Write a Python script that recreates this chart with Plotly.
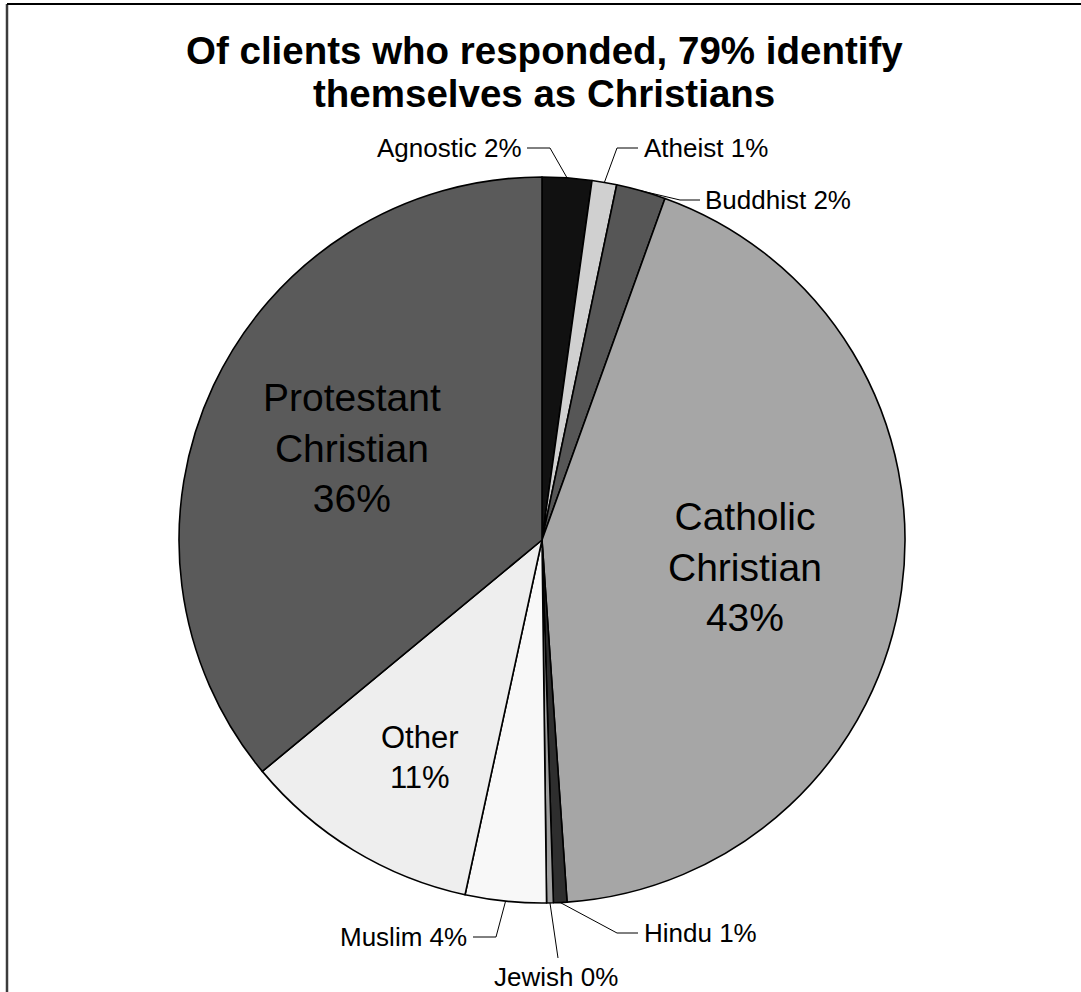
import math
import plotly.graph_objects as go

# Survey responses by religious identification (share of respondents, %)
religions = ["Agnostic", "Atheist", "Buddhist", "Catholic Christian", "Hindu",
             "Jewish", "Muslim", "Other", "Protestant Christian"]
shares = [2.2, 1.1, 2.2, 43.4, 0.6, 0.3, 3.6, 10.6, 36.0]
slice_colors = ["#111111", "#d0d0d0", "#565656", "#a6a6a6", "#2e2e2e",
                "#a0a0a0", "#f8f8f8", "#eeeeee", "#5a5a5a"]

W, H = 1081, 992
L, T, SIZE = 179, 177, 726          # plot area holding the pie (pixels)
R_MARGIN = W - L - SIZE
B_MARGIN = H - T - SIZE
CX, CY, RAD = L + SIZE / 2, T + SIZE / 2, SIZE / 2
FONT = "Liberation Sans, Arial, sans-serif"


def to_paper(px, py):
    return (px - L) / SIZE, 1 - (py - T) / SIZE


def polar_px(frac, r):
    a = 2 * math.pi * frac
    return CX + r * math.sin(a), CY - r * math.cos(a)


total = sum(shares)
mids = []
acc = 0.0
for v in shares:
    mids.append((acc + v / 2) / total)
    acc += v
pct_text = [f"{round(v / total * 100):.0f}%" for v in shares]

fig = go.Figure(go.Pie(
    labels=religions, values=shares, sort=False, direction="clockwise",
    rotation=0, textinfo="none", hoverinfo="skip", showlegend=False,
    marker=dict(colors=slice_colors, line=dict(color="#000000", width=1.6)),
))

annotations = []
shapes = []

# Large slices: labels inside the pie (radius fraction, font size, pixel nudge)
inside = {"Catholic Christian": (0.565, 39, 0, -1),
          "Protestant Christian": (0.58, 39, 1, -2),
          "Other": (0.69, 31, 8, 4)}
for i, name in enumerate(religions):
    if name in inside:
        rf, fs, nx, ny = inside[name]
        px, py = polar_px(mids[i], RAD * rf)
        x, y = to_paper(px + nx, py + ny)
        annotations.append(dict(
            x=x, y=y, xref="paper", yref="paper", showarrow=False,
            text=name.replace(" ", "<br>") + "<br>" + pct_text[i],
            font=dict(family=FONT, size=fs, color="#000000"),
            xanchor="center", yanchor="middle"))

# Small slices: outside labels with elbow leader lines
# name: (elbow px, line end px, text anchor px, xanchor)
outside = {
    "Agnostic": ((550, 148), (527, 148), (524, 148), "right"),
    "Atheist": ((617, 148), (638, 148), (642, 148), "left"),
    "Buddhist": ((680, 200), (700, 200), (703, 200), "left"),
    "Hindu": ((617, 933), (638, 933), (642, 933), "left"),
    "Jewish": ((558, 958), (558, 958), (556, 977), "center"),
    "Muslim": ((496, 937), (473, 937), (469, 937), "right"),
}
for i, name in enumerate(religions):
    if name in outside:
        elbow, end, anchor, xa = outside[name]
        p0 = to_paper(*polar_px(mids[i], RAD))
        p1 = to_paper(*elbow)
        p2 = to_paper(*end)
        shapes.append(dict(
            type="path", xref="paper", yref="paper",
            path=f"M {p0[0]},{p0[1]} L {p1[0]},{p1[1]} L {p2[0]},{p2[1]}",
            line=dict(color="#000000", width=1)))
        tx, ty = to_paper(*anchor)
        annotations.append(dict(
            x=tx, y=ty, xref="paper", yref="paper", showarrow=False,
            text=f"{name} {pct_text[i]}",
            font=dict(family=FONT, size=26, color="#000000"),
            xanchor=xa, yanchor="middle"))

# Two-line title
for line, ypx in (("Of clients who responded, 79% identify", 51),
                  ("themselves as Christians", 94)):
    x, y = to_paper(544, ypx)
    annotations.append(dict(
        x=x, y=y, xref="paper", yref="paper", showarrow=False, text=f"<b>{line}</b>",
        font=dict(family=FONT, size=38.5, color="#000000"),
        xanchor="center", yanchor="middle"))

# Chart frame (top and left edges visible)
f0 = to_paper(7, H + 20)
f1 = to_paper(7, 4)
f2 = to_paper(W + 20, 4)
shapes.append(dict(type="line", xref="paper", yref="paper",
                   x0=f0[0], y0=f0[1], x1=f1[0], y1=f1[1],
                   line=dict(color="#3c3c3c", width=2.5)))
shapes.append(dict(type="line", xref="paper", yref="paper",
                   x0=f1[0], y0=f1[1], x1=f2[0], y1=f2[1],
                   line=dict(color="#000000", width=2)))

fig.update_layout(
    width=W, height=H,
    margin=dict(l=L, r=R_MARGIN, t=T, b=B_MARGIN, pad=0),
    paper_bgcolor="#ffffff", plot_bgcolor="#ffffff",
    annotations=annotations, shapes=shapes,
)

fig.write_html("out.html")
